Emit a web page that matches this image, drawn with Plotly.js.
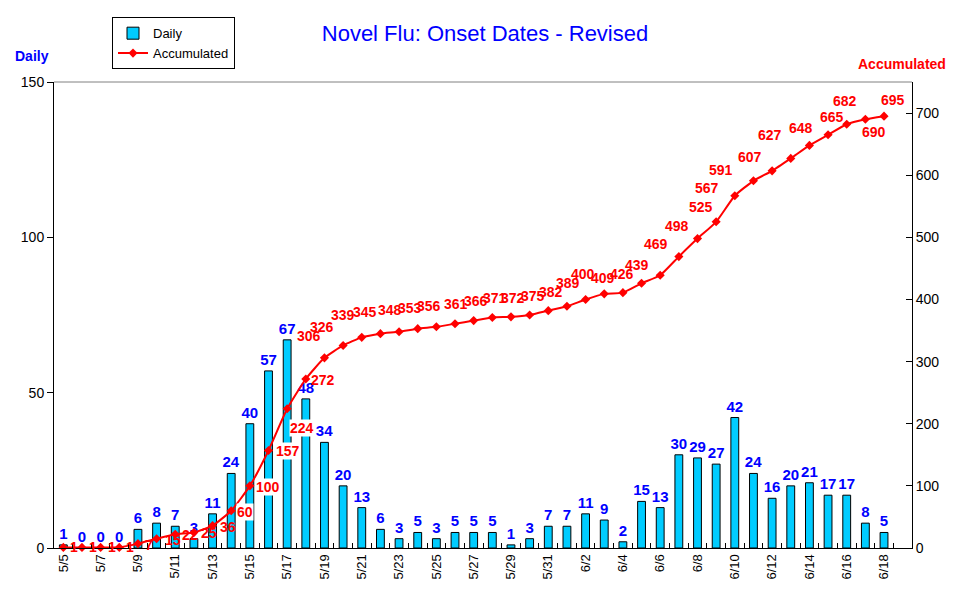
<!DOCTYPE html>
<html>
<head>
<meta charset="utf-8">
<script src="https://cdn.plot.ly/plotly-3.0.1.min.js"></script>
<style>
  body { margin: 0; background: #fff; }
  #chart { width: 970px; height: 603px; }
</style>
</head>
<body>
<div id="chart"></div>
<script>
var dates = ["5/5", "5/6", "5/7", "5/8", "5/9", "5/10", "5/11", "5/12", "5/13", "5/14",
  "5/15", "5/16", "5/17", "5/18", "5/19", "5/20", "5/21", "5/22", "5/23", "5/24",
  "5/25", "5/26", "5/27", "5/28", "5/29", "5/30", "5/31", "6/1", "6/2", "6/3",
  "6/4", "6/5", "6/6", "6/7", "6/8", "6/9", "6/10", "6/11", "6/12", "6/13",
  "6/14", "6/15", "6/16", "6/17", "6/18"];

var daily = [1, 0, 0, 0, 6, 8, 7, 3, 11, 24,
  40, 57, 67, 48, 34, 20, 13, 6, 3, 5,
  3, 5, 5, 5, 1, 3, 7, 7, 11, 9,
  2, 15, 13, 30, 29, 27, 42, 24, 16, 20,
  21, 17, 17, 8, 5];

var accumulated = [1, 1, 1, 1, 7, 15, 22, 25, 36, 60,
  100, 157, 224, 272, 306, 326, 339, 345, 348, 353,
  356, 361, 366, 371, 372, 375, 382, 389, 400, 409,
  411, 426, 439, 469, 498, 525, 567, 591, 607, 627,
  648, 665, 682, 690, 695];

// where each accumulated label sits relative to its point (px, right / down)
var labelDx = [11, 11, 11, 11, 11, 16, 15, 15, 15, 14,
  18, 19, 15, 17, -15, -21, -19, -15, -9, -8,
  -7, 1, 2, 3, 2, 3, 3, 1, -3, -1,
  0, -20, -23, -23, -21, -15, -28, -32, -22, -21,
  -8, 4, -2, 9, 9];
var labelDy = [0, 0, 0, 0, 1, 1, 1, 1, 1, 1,
  1, 1, 19, 1, -22, -18, -22, -22, -22, -21,
  -21, -20, -20, -19, -19, -19, -19, -23, -25, -16,
  0, -9, -10, -13, -13, -15, -8, -11, -14, -23,
  -17, -18, -23, 13, -16];
var hiddenLabel = 30;          // 6/4 label is not shown in the original
var boxedLabels = [9, 10, 11, 12];

var idx = dates.map(function (d, i) { return i; });
var labelIdx = idx.filter(function (i) { return i % 2 === 0; });
var labelText = labelIdx.map(function (i) { return dates[i]; });
var halfTicks = [];
for (var k = 0; k <= dates.length + 1; k++) halfTicks.push(k - 0.5);

var data = [
  {
    type: "bar",
    name: "Daily",
    x: idx,
    y: daily,
    width: 0.42,
    marker: { color: "#00CCFF", line: { color: "#000000", width: 1 } },
    text: daily.map(String),
    textposition: "outside",
    constraintext: "none",
    cliponaxis: false,
    textfont: { color: "#0000FF", size: 15, family: "Liberation Sans", weight: "bold" },
    hoverinfo: "x+y"
  },
  {
    type: "scatter",
    mode: "lines+markers",
    name: "Accumulated",
    x: idx,
    y: accumulated,
    yaxis: "y2",
    line: { color: "#FF0000", width: 2, shape: "spline", smoothing: 0.5 },
    marker: { color: "#FF0000", symbol: "diamond", size: 7 },
    cliponaxis: false
  },
  {
    type: "scatter",
    mode: "none",
    x: [0],
    y: [0],
    xaxis: "x3",
    showlegend: false,
    hoverinfo: "skip"
  }
];

var annotations = [
  { text: "<b>Daily</b>", xref: "paper", yref: "paper", x: -0.0256, y: 1.056,
    xanchor: "center", yanchor: "middle",
    showarrow: false, font: { color: "#0000FF", size: 14 } },
  { text: "<b>Accumulated</b>", xref: "paper", yref: "paper", x: 0.988, y: 1.039,
    xanchor: "center", yanchor: "middle",
    showarrow: false, font: { color: "#FF0000", size: 14 } }
];

accumulated.forEach(function (v, i) {
  if (i === hiddenLabel) return;
  annotations.push({
    x: i, y: v, xref: "x", yref: "y2",
    text: "<b>" + v + "</b>",
    showarrow: false,
    xanchor: "center", yanchor: "middle",
    xshift: labelDx[i], yshift: -labelDy[i],
    bgcolor: boxedLabels.indexOf(i) >= 0 ? "#ffffff" : "rgba(0,0,0,0)",
    borderpad: 0,
    font: { color: "#FF0000", size: 14, family: "Liberation Sans" }
  });
});

var layout = {
  width: 970,
  height: 603,
  margin: { l: 54, r: 58, t: 82, b: 55 },
  paper_bgcolor: "#ffffff",
  plot_bgcolor: "#ffffff",
  font: { family: "Liberation Sans", color: "#000000", size: 13 },
  title: {
    text: "Novel Flu: Onset Dates - Revised",
    font: { color: "#0000FF", size: 22, family: "Liberation Sans" },
    x: 0.5, xref: "container", xanchor: "center",
    y: 0.944, yanchor: "middle"
  },
  showlegend: true,
  legend: {
    x: 0.0676, y: 1.139, xanchor: "left", yanchor: "top",
    bgcolor: "#ffffff", bordercolor: "#000000", borderwidth: 1,
    font: { size: 13, family: "Liberation Sans" },
    tracegroupgap: 0
  },
  xaxis: {
    range: [-0.5, 45.5],
    tickvals: labelIdx,
    ticktext: labelText,
    tickangle: -90,
    ticks: "",
    showline: true,
    linecolor: "#000000",
    linewidth: 1,
    showgrid: false,
    zeroline: false,
    tickfont: { size: 13 }
  },
  xaxis3: {
    overlaying: "x",
    range: [-0.5, 45.5],
    tickvals: halfTicks,
    ticks: "inside",
    ticklen: 5,
    tickcolor: "#000000",
    showticklabels: false,
    showline: false,
    showgrid: false,
    zeroline: false,
    anchor: "y"
  },
  yaxis: {
    range: [0, 150],
    dtick: 50,
    ticks: "outside",
    ticklen: 6,
    tickcolor: "#000000",
    showline: true,
    linecolor: "#000000",
    showgrid: false,
    zeroline: false,
    tickfont: { size: 14 }
  },
  yaxis2: {
    range: [0, 750],
    tickvals: [0, 100, 200, 300, 400, 500, 600, 700],
    overlaying: "y",
    side: "right",
    ticks: "inside",
    ticklen: 6,
    tickcolor: "#000000",
    showline: true,
    linecolor: "#000000",
    showgrid: false,
    zeroline: false,
    tickfont: { size: 14 }
  },
  shapes: [
    { type: "line", xref: "paper", yref: "paper", x0: 0, x1: 1, y0: 1, y1: 1,
      line: { color: "#808080", width: 1 } }
  ],
  annotations: annotations
};

Plotly.newPlot("chart", data, layout, { displayModeBar: false });
</script>
</body>
</html>
